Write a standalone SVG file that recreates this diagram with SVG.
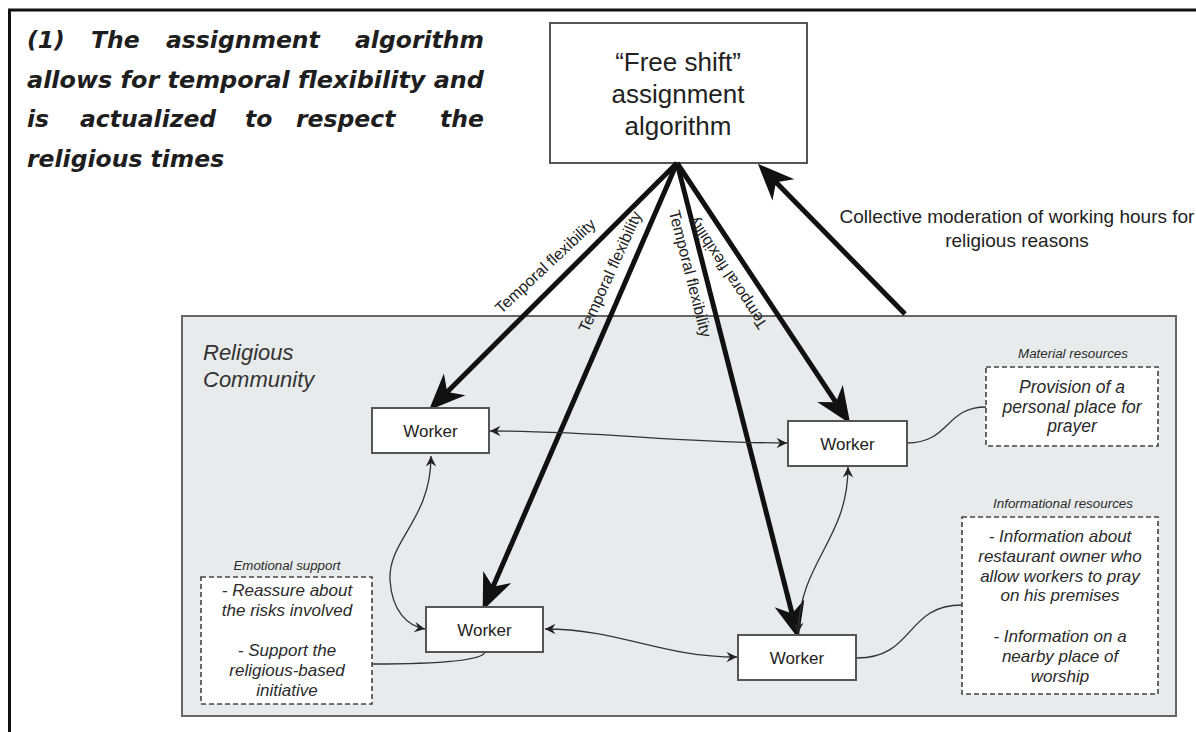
<svg xmlns="http://www.w3.org/2000/svg" width="1196" height="732" viewBox="0 0 1196 732">
<style>
.title{font-family:"DejaVu Sans","Liberation Sans",sans-serif;font-weight:bold;font-style:oblique;font-size:23.5px;fill:#1e1e1e}
.box{fill:#fff;stroke:#555;stroke-width:2}
.dash{fill:#fff;stroke:#444;stroke-width:1.6;stroke-dasharray:5,3}
.lbl{font-family:"Liberation Sans",Arial,sans-serif;fill:#222;text-anchor:middle}
.it{font-family:"Liberation Sans",Arial,sans-serif;font-style:italic;fill:#2a2a2a;text-anchor:middle}
.thick{fill:none;stroke:#111;stroke-width:5}
.thin{fill:none;stroke:#333;stroke-width:1.3}
</style>
<defs>
<marker id="bigArrow" markerUnits="userSpaceOnUse" markerWidth="40" markerHeight="40" viewBox="-10 -14 34 28" refX="0" refY="0" orient="auto">
<path d="M22,0 L-9,-13 L0,0 L-9,13 Z" fill="#111"/>
</marker>
<marker id="smallArrow" markerUnits="userSpaceOnUse" markerWidth="14" markerHeight="14" viewBox="-10 -6 12 12" refX="0" refY="0" orient="auto-start-reverse">
<path d="M0,0 L-9,-4.5 L-6,0 L-9,4.5 Z" fill="#222"/>
</marker>
</defs>
<rect width="1196" height="732" fill="#fff"/>
<!-- frame -->
<path d="M9.5,732 L9.5,10 L1196,10" fill="none" stroke="#111" stroke-width="3"/>
<!-- title -->
<g id="title">
<text class="title" x="27" y="48">(1)</text>
<text class="title" x="91" y="48">The</text>
<text class="title" x="166" y="48">assignment</text>
<text class="title" x="484" y="48" text-anchor="end">algorithm</text>
<text class="title" x="27" y="87.5" textLength="457" lengthAdjust="spacingAndGlyphs">allows for temporal flexibility and</text>
<text class="title" x="27" y="127">is</text>
<text class="title" x="80" y="127">actualized</text>
<text class="title" x="245" y="127">to</text>
<text class="title" x="296" y="127">respect</text>
<text class="title" x="484" y="127" text-anchor="end">the</text>
<text class="title" x="27" y="166.5">religious times</text>
</g>
<!-- community region -->
<g id="community">
<rect x="182" y="316" width="994" height="400" fill="#e8ebec" stroke="#666" stroke-width="2"/>
<text x="203" y="360" font-family="Liberation Sans,Arial,sans-serif" font-style="italic" font-size="22" fill="#333">Religious</text>
<text x="203" y="387" font-family="Liberation Sans,Arial,sans-serif" font-style="italic" font-size="22" fill="#333">Community</text>
</g>
<!-- algorithm node -->
<g id="algorithm">
<rect class="box" x="550" y="23" width="257" height="140"/>
<text class="lbl" x="678" y="71" font-size="26">“Free shift”</text>
<text class="lbl" x="678" y="103" font-size="26">assignment</text>
<text class="lbl" x="678" y="135" font-size="26">algorithm</text>
</g>
<!-- connectors -->
<g id="connectors">
<line class="thick" x1="677" y1="163" x2="447.2" y2="391.9" marker-end="url(#bigArrow)"/>
<line class="thick" x1="677" y1="163" x2="493" y2="586.7" marker-end="url(#bigArrow)"/>
<line class="thick" x1="677" y1="163" x2="792.1" y2="613.6" marker-end="url(#bigArrow)"/>
<line class="thick" x1="677" y1="163" x2="835.9" y2="402.3" marker-end="url(#bigArrow)"/>
<line class="thick" x1="905" y1="314" x2="776" y2="182.3" marker-end="url(#bigArrow)"/>
<path class="thin" d="M490,431 C600,431 680,443 787,443" marker-start="url(#smallArrow)" marker-end="url(#smallArrow)"/>
<path class="thin" d="M431,456 C431,520 388,540 390,580 C392,612 408,626 425,629" marker-start="url(#smallArrow)" marker-end="url(#smallArrow)"/>
<path class="thin" d="M545,629 C620,629 660,657 737,657" marker-start="url(#smallArrow)" marker-end="url(#smallArrow)"/>
<path class="thin" d="M848,467 C848,540 800,560 798,633" marker-start="url(#smallArrow)" marker-end="url(#smallArrow)"/>
<path class="thin" d="M907,443 C950,443 945,407 986,407"/>
<path class="thin" d="M857,658 C915,658 905,605 962,605"/>
<path class="thin" d="M485,652 C482,662 420,664 372,664"/>
<text class="lbl" font-size="16" transform="translate(549,270) rotate(-43)">Temporal flexibility</text>
<text class="lbl" font-size="16" transform="translate(615,274) rotate(-65.5)">Temporal flexibility</text>
<text class="lbl" font-size="16" transform="translate(685,275) rotate(75.7)">Temporal flexibility</text>
<text class="lbl" font-size="16" transform="translate(732,270) rotate(236.5)">Temporal flexibility</text>
<text class="lbl" font-size="19" fill="#333" x="1017" y="223">Collective moderation of working hours for</text>
<text class="lbl" font-size="19" fill="#333" x="1017" y="247">religious reasons</text>
</g>
<!-- workers -->
<g id="worker1"><rect class="box" x="372" y="408" width="117" height="45"/><text class="lbl" x="430.5" y="437" font-size="17">Worker</text></g>
<g id="worker2"><rect class="box" x="788" y="421" width="119" height="45"/><text class="lbl" x="847.5" y="450" font-size="17">Worker</text></g>
<g id="worker3"><rect class="box" x="426" y="607" width="117" height="45"/><text class="lbl" x="484.5" y="636" font-size="17">Worker</text></g>
<g id="worker4"><rect class="box" x="738" y="635" width="118" height="45"/><text class="lbl" x="797" y="664" font-size="17">Worker</text></g>
<!-- emotional support -->
<g id="emotional">
<text class="it" x="287" y="570" font-size="12.5" textLength="107" lengthAdjust="spacingAndGlyphs">Emotional support</text>
<rect class="dash" x="201" y="577" width="171" height="127"/>
<text class="it" x="287" y="596" font-size="17">- Reassure about</text>
<text class="it" x="287" y="616" font-size="17">the risks involved</text>
<text class="it" x="287" y="656" font-size="17">- Support the</text>
<text class="it" x="287" y="676" font-size="17">religious-based</text>
<text class="it" x="287" y="696" font-size="17">initiative</text>
</g>
<!-- material resources -->
<g id="material">
<text class="it" x="1073" y="358" font-size="12.5" textLength="110" lengthAdjust="spacingAndGlyphs">Material resources</text>
<rect class="dash" x="986" y="367" width="172" height="79"/>
<text class="it" x="1072" y="393" font-size="17.5">Provision of a</text>
<text class="it" x="1072" y="413" font-size="17.5">personal place for</text>
<text class="it" x="1072" y="432" font-size="17.5">prayer</text>
</g>
<!-- informational resources -->
<g id="informational">
<text class="it" x="1063" y="508" font-size="12.5" textLength="140" lengthAdjust="spacingAndGlyphs">Informational resources</text>
<rect class="dash" x="962" y="517" width="196" height="177"/>
<text class="it" x="1060" y="542" font-size="17">- Information about</text>
<text class="it" x="1060" y="562" font-size="17">restaurant owner who</text>
<text class="it" x="1060" y="582" font-size="17">allow workers to pray</text>
<text class="it" x="1060" y="601" font-size="17">on his premises</text>
<text class="it" x="1060" y="642" font-size="17">- Information on a</text>
<text class="it" x="1060" y="662" font-size="17">nearby place of</text>
<text class="it" x="1060" y="682" font-size="17">worship</text>
</g>
</svg>
